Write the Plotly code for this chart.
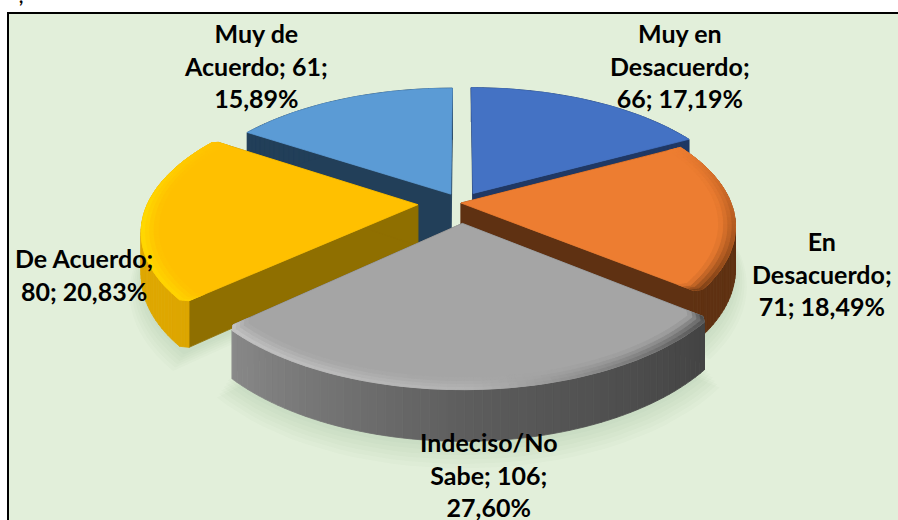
import math

import plotly.graph_objects as go

categories = ["Muy en Desacuerdo", "En Desacuerdo", "Indeciso/No Sabe", "De Acuerdo", "Muy de Acuerdo"]
counts = [66, 71, 106, 80, 61]
percents = ["17,19%", "18,49%", "27,60%", "20,83%", "15,89%"]

label_texts = [
    "Muy en<br>Desacuerdo;<br>66; 17,19%",
    "En<br>Desacuerdo;<br>71; 18,49%",
    "Indeciso/No<br>Sabe; 106;<br>27,60%",
    "De Acuerdo;<br>80; 20,83%",
    "Muy de<br>Acuerdo; 61;<br>15,89%",
]
label_x = [680, 822, 489, 84, 256]
label_y = [65, 273, 474, 274, 65]

# explosion of each slice, in pie radii
pull = [0.088, 0.0, 0.155, 0.16, 0.08]
# the light blue wall runs down behind the grey slice
depth_scale = [1, 1, 1, 1, 1.5]
# rounded corners (start, end) of each slice, in degrees of arc
corner_deg = [(0, 0), (0, 1.5), (1.5, 1.5), (1.5, 1), (0, 0)]

top_colors = ["#4472C4", "#ED7D31", "#A5A5A5", "#FFC000", "#5B9BD5"]
side_colors = ["#203864", "#5F3112", "#5A5A5A", "#8F6F00", "#223F59"]
# start / middle / end of each slice, going clockwise
wall_colors = [
    ["#203864", "#203864", "#203864"],
    ["#6B3814", "#5F3112", "#5F3112"],
    ["#404040", "#5C5C5C", "#8E8E8E"],
    ["#DDA600", "#E0A800", "#FFC000"],
    ["#223F59", "#223F59", "#223F59"],
]
rim_colors = [
    ["#4472C4", "#4472C4", "#4472C4"],
    ["#ED7D31", "#B0591F", "#6A3613"],
    ["#404040", "#B4B4B4", "#C8C8C8"],
    ["#FFD400", "#FFDC00", "#FFC000"],
    ["#5B9BD5", "#5B9BD5", "#5B9BD5"],
]
draw_order = [4, 0, 1, 3, 2]

# pie projection, pixels
CX, CY = 461, 203
RX, RY = 270, 128
DEPTH = 41
PERSP = 0.18
RIM = 0.94
CORNER_INSET = 0.02


def project(x, y, z=0.0):
    w = 1 + PERSP * y
    return CX + RX * x / w, CY - (RY * y + DEPTH * z) / w


def mix(c1, c2, t):
    a = [int(c1[i:i + 2], 16) for i in (1, 3, 5)]
    b = [int(c2[i:i + 2], 16) for i in (1, 3, 5)]
    return "#%02x%02x%02x" % tuple(round(p + (q - p) * t) for p, q in zip(a, b))


def stop_color(stops, t):
    if t < 0.5:
        return mix(stops[0], stops[1], t * 2)
    return mix(stops[1], stops[2], t * 2 - 1)


fig = go.Figure()


def add_poly(pts, color):
    xs = [p[0] for p in pts] + [pts[0][0]]
    ys = [p[1] for p in pts] + [pts[0][1]]
    fig.add_trace(go.Scatter(
        x=xs, y=ys, mode="lines", fill="toself", fillcolor=color,
        line=dict(color=color, width=0.8),
        hoverinfo="skip", showlegend=False,
    ))


def point(ox, oy, r, deg, z=0.0):
    a = math.radians(deg)
    return project(ox + r * math.sin(a), oy + r * math.cos(a), z)


def outline(a0, a1, c0, c1, step):
    # outer edge of a slice as (radius, angle), with the corners eased in
    pts = []
    if c0:
        for k in range(4):
            u = k / 4
            pts.append((1 - CORNER_INSET * (1 - u) ** 2, a0 + c0 * (1 - (1 - u) ** 2)))
    n = max(4, int((a1 - c1 - a0 - c0) / step))
    for k in range(n + 1):
        pts.append((1.0, a0 + c0 + (a1 - c1 - a0 - c0) * k / n))
    if c1:
        for k in range(1, 5):
            u = k / 4
            pts.append((1 - CORNER_INSET * u ** 2, a1 - c1 * (1 - u ** 2)))
    return pts


# slice angles from the counts
total = sum(counts)
slices = []
running = 0
for c in counts:
    start = running / total * 360
    running += c
    slices.append((start, running / total * 360))

offsets = []
for (a0, a1), e in zip(slices, pull):
    mid = math.radians((a0 + a1) / 2)
    offsets.append((e * math.sin(mid), e * math.cos(mid)))

# soft shadow on the background
for layer in range(6):
    grow = 1.0 + layer * 0.008
    drop = -1.1 - layer * 0.05
    for i in [2, 3, 1]:
        a0, a1 = slices[i]
        ox, oy = offsets[i]
        steps = max(8, int((a1 - a0) / 3))
        pts = [project(ox, oy, drop)]
        pts += [point(ox, oy, grow, a0 + (a1 - a0) * k / steps, drop) for k in range(steps + 1)]
        fig.add_trace(go.Scatter(
            x=[p[0] for p in pts] + [pts[0][0]], y=[p[1] for p in pts] + [pts[0][1]],
            mode="lines", fill="toself", fillcolor="rgba(60,80,50,0.02)",
            line=dict(width=0), hoverinfo="skip", showlegend=False,
        ))

for i in draw_order:
    a0, a1 = slices[i]
    ox, oy = offsets[i]
    low = -depth_scale[i]
    edge_pts = outline(a0, a1, corner_deg[i][0], corner_deg[i][1], 1.5)
    n = len(edge_pts) - 1

    # radial side walls
    for r, a in (edge_pts[0], edge_pts[-1]):
        add_poly([project(ox, oy, 0), point(ox, oy, r, a, 0),
                  point(ox, oy, r, a, low), project(ox, oy, low)], side_colors[i])

    # outer wall
    for k in range(n):
        t = (k + 0.5) / n
        r0, d0 = edge_pts[k]
        r1, d1 = edge_pts[k + 1]
        add_poly([point(ox, oy, r0, d0, 0), point(ox, oy, r1, d1, 0),
                  point(ox, oy, r1, d1, low), point(ox, oy, r0, d0, low)],
                 stop_color(wall_colors[i], t))

    # top face
    add_poly([project(ox, oy)] + [point(ox, oy, r, d) for r, d in edge_pts], top_colors[i])

    # bevel along the rim
    if rim_colors[i][1] != top_colors[i]:
        rings = 4
        for j in range(rings):
            s_out = 1 - (1 - RIM) * j / rings
            s_in = 1 - (1 - RIM) * (j + 1) / rings
            fade = (j + 0.5) / rings
            for k in range(n):
                t = (k + 0.5) / n
                r0, d0 = edge_pts[k]
                r1, d1 = edge_pts[k + 1]
                col = mix(stop_color(rim_colors[i], t), top_colors[i], fade)
                add_poly([point(ox, oy, r0 * s_out, d0), point(ox, oy, r1 * s_out, d1),
                          point(ox, oy, r1 * s_in, d1), point(ox, oy, r0 * s_in, d0)], col)

for text, x, y in zip(label_texts, label_x, label_y):
    fig.add_annotation(
        x=x, y=y, xref="x", yref="y", text="<b>" + text + "</b>", showarrow=False,
        xanchor="center", yanchor="middle", align="center",
        font=dict(family="Lato", size=25, color="#000000"),
    )

# tail of a line of text cropped off above the chart
fig.add_annotation(
    x=21, y=0, xref="x", yref="y", text="<b>,</b>", showarrow=False, yshift=4,
    xanchor="center", yanchor="middle", font=dict(family="Lato", size=18, color="#000000"),
)

fig.update_layout(
    width=898, height=520,
    margin=dict(l=0, r=0, t=0, b=0),
    paper_bgcolor="#FFFFFF",
    plot_bgcolor="#FFFFFF",
    showlegend=False,
    xaxis=dict(range=[0, 898], visible=False, fixedrange=True),
    yaxis=dict(range=[520, 0], visible=False, fixedrange=True),
    shapes=[dict(type="rect", xref="x", yref="y", x0=8, y0=13, x1=904, y1=528,
                 fillcolor="#E2EFDA", line=dict(color="#000000", width=2), layer="below")],
)

# no page margin, so the figure fills the window
fig.write_html("out.html", config={"displayModeBar": False},
               post_script="document.body.style.margin = '0';")
